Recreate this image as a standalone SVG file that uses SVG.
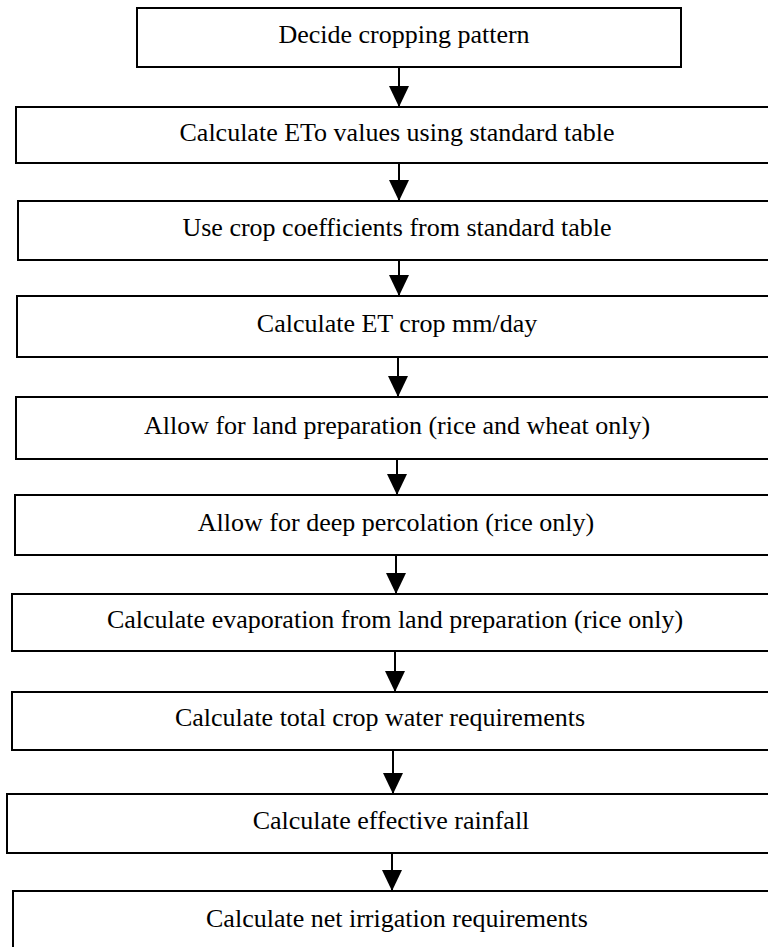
<svg xmlns="http://www.w3.org/2000/svg" width="768" height="947" viewBox="0 0 768 947">
<style>
.box{fill:#fff;stroke:#000;stroke-width:2}
.lbl{font-family:"Liberation Serif","Times New Roman",serif;font-size:26px;fill:#000;text-anchor:middle}
.conn{stroke:#000;stroke-width:2;fill:none;marker-end:url(#ah)}
</style>
<defs>
<marker id="ah" viewBox="0 0 21 20" markerWidth="21" markerHeight="20" refX="21" refY="10" orient="auto" markerUnits="userSpaceOnUse">
<path d="M0,0 L21,10 L0,20 Z" fill="#000"/>
</marker>
</defs>
<rect width="768" height="947" fill="#fff"/>
<g id="n1"><rect class="box" x="137" y="8" width="544" height="59"/><text class="lbl" x="404" y="43">Decide cropping pattern</text></g>
<g id="n2"><rect class="box" x="16" y="107" width="770" height="56"/><text class="lbl" x="397" y="140.5">Calculate ETo values using standard table</text></g>
<g id="n3"><rect class="box" x="18" y="201" width="770" height="59"/><text class="lbl" x="397" y="236">Use crop coefficients from standard table</text></g>
<g id="n4"><rect class="box" x="17" y="296" width="770" height="61"/><text class="lbl" x="397" y="332">Calculate ET crop mm/day</text></g>
<g id="n5"><rect class="box" x="16" y="397" width="770" height="62"/><text class="lbl" x="397" y="433.5">Allow for land preparation (rice and wheat only)</text></g>
<g id="n6"><rect class="box" x="15" y="495" width="770" height="60"/><text class="lbl" x="396" y="530.5">Allow for deep percolation (rice only)</text></g>
<g id="n7"><rect class="box" x="12" y="594" width="770" height="57"/><text class="lbl" x="395" y="628">Calculate evaporation from land preparation (rice only)</text></g>
<g id="n8"><rect class="box" x="12" y="692" width="770" height="58"/><text class="lbl" x="380" y="726">Calculate total crop water requirements</text></g>
<g id="n9"><rect class="box" x="7" y="794" width="770" height="59"/><text class="lbl" x="391" y="829">Calculate effective rainfall</text></g>
<g id="n10"><rect class="box" x="13" y="891" width="770" height="70"/><text class="lbl" x="397" y="927">Calculate net irrigation requirements</text></g>
<g id="connectors">
<line class="conn" x1="399" y1="67" x2="399" y2="107"/>
<line class="conn" x1="399" y1="163" x2="399" y2="201"/>
<line class="conn" x1="399" y1="260" x2="399" y2="296"/>
<line class="conn" x1="398" y1="357" x2="398" y2="397"/>
<line class="conn" x1="397" y1="459" x2="397" y2="495"/>
<line class="conn" x1="396" y1="555" x2="396" y2="594"/>
<line class="conn" x1="395" y1="651" x2="395" y2="692"/>
<line class="conn" x1="393" y1="750" x2="393" y2="794"/>
<line class="conn" x1="392" y1="853" x2="392" y2="891"/>
</g>
</svg>
